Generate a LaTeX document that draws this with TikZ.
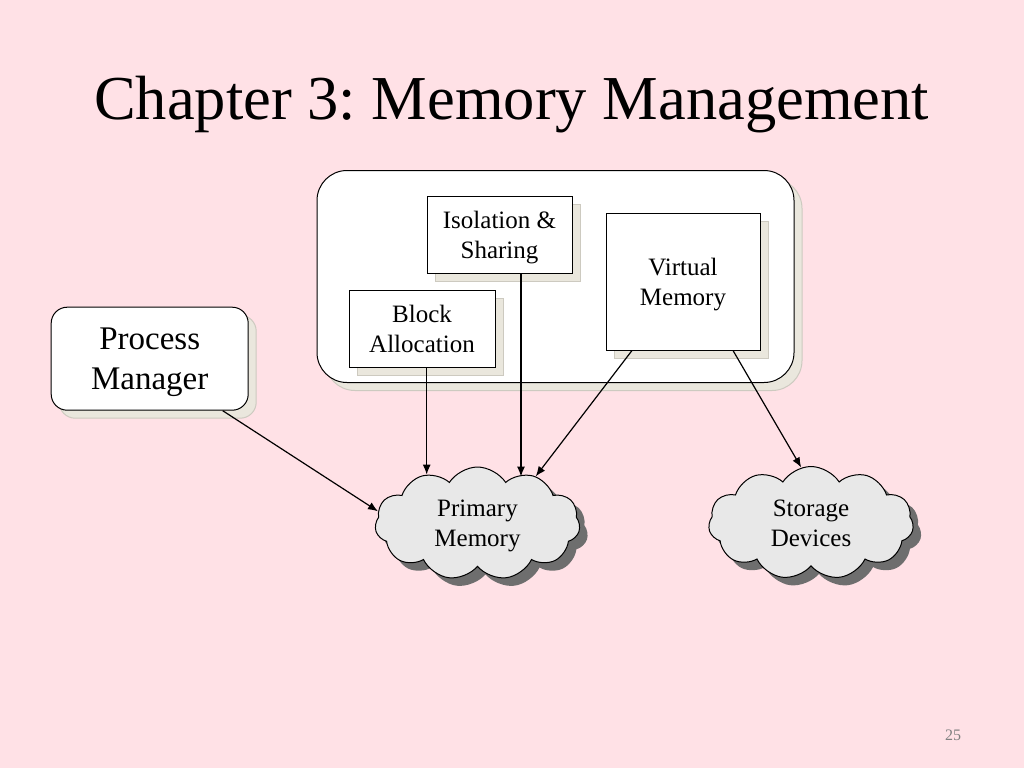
\documentclass[tikz,border=0pt]{standalone}
\usepackage{fontspec}
\setmainfont{Liberation Serif}
\usetikzlibrary{shapes.symbols,shadows,arrows.meta,calc}
\frenchspacing

\definecolor{slidepink}{RGB}{255,225,230}
\definecolor{boxshade}{RGB}{234,231,221}
\definecolor{boxshadeedge}{RGB}{205,202,192}
\definecolor{cloudfill}{RGB}{232,232,232}
\definecolor{cloudshade}{RGB}{110,110,110}

\tikzset{
  boxshadow/.style={drop shadow={shadow xshift=8pt, shadow yshift=-8pt, fill=boxshade, draw=boxshadeedge, opacity=1}},
  part/.style={draw, fill=white, line width=1pt, align=center, inner sep=0pt, text depth=0pt, boxshadow,
    font=\fontsize{25}{30}\selectfont},
  memcloud/.style={cloud, cloud puffs=11, cloud puff arc=115, aspect=1.8, draw, fill=cloudfill,
    line width=1pt, minimum width=205pt, minimum height=113pt, inner sep=0pt, align=center,
    text depth=0pt, font=\fontsize{25}{30}\selectfont,
    drop shadow={shadow xshift=8pt, shadow yshift=-8pt, fill=cloudshade, opacity=1}},
  arr/.style={-{Latex[length=10pt,width=8pt]}, line width=1.2pt}
}

\begin{document}
\begin{tikzpicture}[x=1pt, y=-1pt]
% slide
\fill[slidepink] (0,0) rectangle (1024,768);
\node[anchor=base, font=\fontsize{62.5}{70}\selectfont] (title) at (511.5,119) {Chapter 3: Memory Management};

% memory manager and its parts
\node[part, rounded corners=30pt, minimum width=477pt, minimum height=212pt] (mm) at (555.5,276.5) {};
\node[part, minimum width=145pt, minimum height=77pt] (iso) at (499.5,234.5) {Isolation \&\\Sharing};
\node[part, minimum width=146pt, minimum height=77pt] (blk) at (422,328.5) {Block\\Allocation};
\node[part, minimum width=154pt, minimum height=137pt] (vm) at (683,281.5) {Virtual\\Memory};

% process manager
\node[part, rounded corners=16pt, minimum width=197pt, minimum height=103pt,
  font=\fontsize{33}{40}\selectfont] (proc) at (149.7,358.7) {Process\\Manager};

% clouds
\node[memcloud] (prim) at (477.5,523.5) {Primary\\Memory};
\node[memcloud] (stor) at (811,523) {Storage\\Devices};

% arrow starts
\coordinate (procout) at ($(proc.south)+(73,0)$);
\coordinate (blkout) at ($(blk.south)+(4.7,0)$);
\coordinate (isoout) at ($(iso.south)+(21.5,0)$);
\coordinate (vmleft) at ($(vm.south)+(-51,0)$);
\coordinate (vmright) at ($(vm.south)+(50,0)$);

% arrows
\draw[arr] (procout) -- (prim.173);
\draw[arr] (blkout) -- (blkout |- prim.136);
\draw[arr] (isoout) -- (isoout |- prim.52);
\draw[arr] (vmleft) -- (prim.39);
\draw[arr] (vmright) -- (stor.100);

% page number
\node[text=gray, font=\fontsize{16}{18}\selectfont] (page) at (953,735) {25};
\end{tikzpicture}
\end{document}
